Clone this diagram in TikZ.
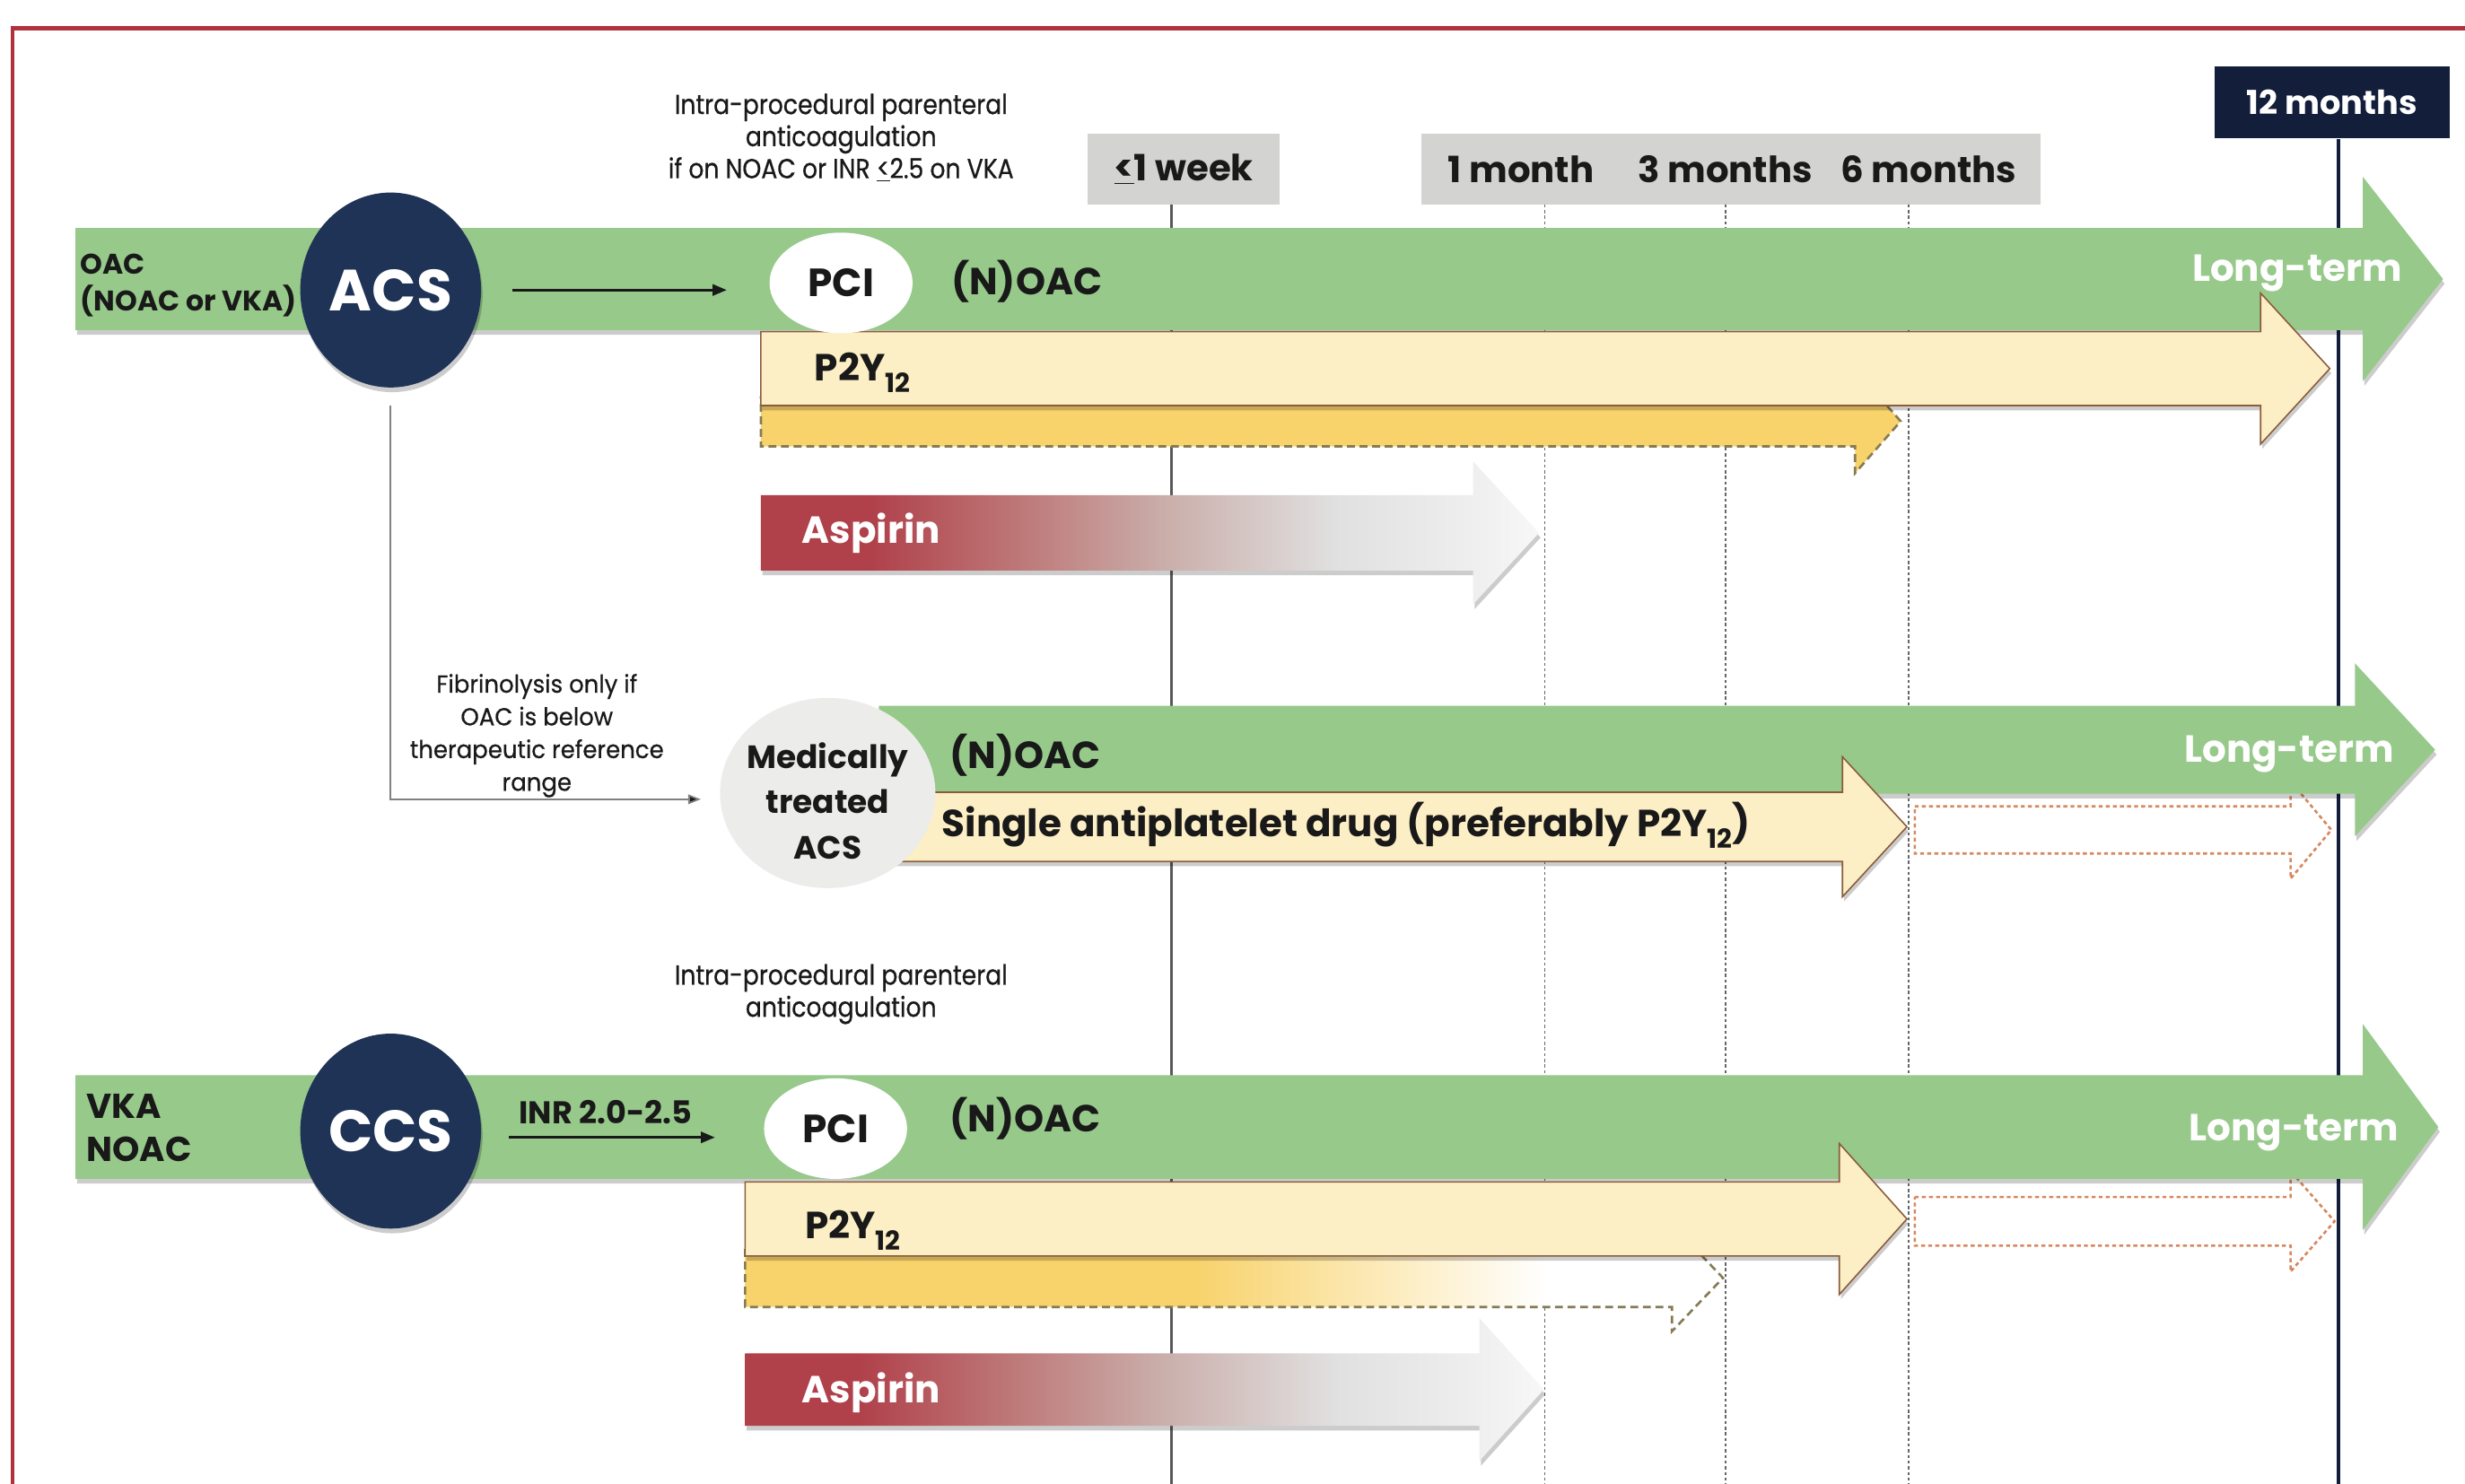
\documentclass[tikz,border=0pt]{standalone}
\usepackage{fontspec}
\setmainfont{Poppins}
\newfontfamily\notefont{Poppins}[FakeStretch=0.87, FakeBold=0.6]
\newfontfamily\fibfont{Poppins}[FakeStretch=0.95, FakeBold=0.5]
\usetikzlibrary{shapes.geometric,arrows.meta,shadows}

\definecolor{frame}{RGB}{176,50,62}
\definecolor{oac}{RGB}{150,201,138}
\definecolor{navy}{RGB}{31,51,86}
\definecolor{deepnavy}{RGB}{18,30,58}
\definecolor{stampgrey}{RGB}{211,211,209}
\definecolor{pale}{RGB}{253,239,197}
\definecolor{rim}{RGB}{138,92,60}
\definecolor{amber}{RGB}{248,211,108}
\definecolor{olive}{RGB}{133,123,85}
\definecolor{asa}{RGB}{176,64,74}
\definecolor{asamid}{RGB}{190,122,122}
\definecolor{asagrey}{RGB}{202,174,170}
\definecolor{rust}{RGB}{214,136,94}
\definecolor{mist}{RGB}{236,236,234}
\definecolor{ink}{RGB}{25,25,25}

\pgfdeclarehorizontalshading{aspirinfade}{100bp}{color(0bp)=(asa); color(32bp)=(asa); color(42bp)=(asamid); color(51bp)=(asagrey); color(62bp)=(black!12); color(70bp)=(black!7); color(75bp)=(black!3); color(100bp)=(black!3)}
\pgfdeclarehorizontalshading{amberfade}{100bp}{color(0bp)=(amber); color(48bp)=(amber); color(57bp)=(amber!50); color(66bp)=(white); color(100bp)=(white)}

\newcommand{\blockarrow}[7][]{%
  \path[#1] (#2,#5-#6) -- (#3,#5-#6) -- (#3,#5-#7) -- (#4,#5)
    -- (#3,#5+#7) -- (#3,#5+#6) -- (#2,#5+#6) -- cycle;}
\newcommand{\sub}[1]{\raisebox{-0.3em}{\scalebox{0.7}{#1}}}

\begin{document}
\begin{tikzpicture}[
    x=1pt, y=-1pt,
    every node/.style={inner sep=0pt, text=ink},
    lift/.style={drop shadow={shadow xshift=1pt, shadow yshift=-3pt, opacity=0.2, fill=black}},
    oacbar/.style={fill=oac, lift},
    p2ybar/.style={fill=pale, draw=rim, line width=0.9pt, lift},
    amberbar/.style={draw=olive, line width=1.5pt, dash pattern=on 5pt off 3pt},
    asabar/.style={shade, shading=aspirinfade, lift},
    laterbar/.style={draw=rust, line width=1.5pt, dash pattern=on 2.5pt off 2pt},
    event/.style={ellipse, fill=navy, text=white, minimum width=115pt, minimum height=124pt, font=\bfseries\fontsize{37}{40}\selectfont, lift},
    pci/.style={ellipse, fill=white, minimum width=91pt, minimum height=64pt, font=\bfseries\fontsize{25}{28}\selectfont},
    medical/.style={ellipse, fill=mist, minimum width=137pt, minimum height=121pt},
    stamp/.style={fill=stampgrey, minimum height=45pt, font=\bfseries\fontsize{23}{26}\selectfont},
    drug/.style={anchor=base west, font=\bfseries\fontsize{24}{28}\selectfont},
    longterm/.style={anchor=base east, text=white, font=\bfseries\fontsize{24}{28}\selectfont},
    note/.style={align=center, text=ink, font=\notefont\fontsize{17.5}{20.4}\selectfont},
    tick/.style={draw=black!60, line width=1pt, dash pattern=on 2pt off 1.6pt},
    conn/.style={draw=ink, line width=1.7pt, -{Triangle[length=9pt,width=7pt]}},
    thinconn/.style={draw=black!50, line width=1pt, -{Triangle[length=8pt,width=6pt,fill=ink]}}
]

\useasboundingbox (0,0) rectangle (1568,944);
\clip (0,0) rectangle (1568,944);
\draw[frame, line width=2.8pt] (8,18) rectangle (1620,1000);

\node[stamp, minimum width=122pt] (week) at (753,107.5) {\underline{<}1 week};
\node[stamp, minimum width=394pt] (months) at (1101,107.5) {};
\node[stamp, fill=none] (m1) at (967.5,107.5) {1 month};
\node[stamp, fill=none] (m3) at (1097.5,107.5) {3 months};
\node[stamp, fill=none] (m6) at (1227,107.5) {6 months};
\node[fill=deepnavy, text=white, minimum width=149pt, minimum height=46pt, font=\bfseries\fontsize{21}{24}\selectfont] (m12) at (1483.5,65) {12 months};

\draw[black!65, line width=1.5pt] ([xshift=-8pt]week.south) -- ++(0,820);
\foreach \t in {982.6,1097.6,1214}
    \draw[tick] (\t,130) -- (\t,944);
\draw[deepnavy, line width=2.5pt] ([xshift=4pt]m12.south) -- ++(0,860);

\blockarrow[oacbar]{48}{1503}{1554}{177.5}{32.5}{65}
\blockarrow[fill=amber, amberbar]{484}{1180}{1209}{268}{16}{33}
\blockarrow[p2ybar]{484}{1438}{1482}{234.5}{23.5}{48}
\blockarrow[asabar]{484}{937}{979}{339}{24}{45.5}

\blockarrow[laterbar]{1218}{1457}{1483}{528}{15}{31}
\blockarrow[oacbar]{559}{1498}{1549}{477}{28}{55}
\blockarrow[p2ybar]{559}{1172}{1213}{526}{22}{44.5}

\blockarrow[laterbar]{1218}{1457}{1485}{777}{15.5}{32}
\blockarrow[oacbar]{48}{1503}{1551}{717}{33}{65.5}
\blockarrow[shade, shading=amberfade, amberbar]{474}{1063.5}{1096}{813}{18.5}{34}
\blockarrow[p2ybar]{474}{1170}{1213}{775.5}{23.5}{48}
\blockarrow[asabar]{474}{941}{982}{884}{23}{45.5}

\node[event] (acs) at (248.5,184.5) {ACS};
\node[pci] (pci1) at (535,180) {PCI};
\node[medical] (med) at (526.5,504.5) {};
\node[align=center, font=\bfseries\fontsize{20.5}{29}\selectfont] (medtext) at (526.5,509.5) {Medically\\treated\\ACS};
\node[event] (ccs) at (248.5,719.6) {CCS};
\node[pci] (pci3) at (531.5,718) {PCI};

\node[note] (intra1) at (535,87.5) {Intra-procedural parenteral\\anticoagulation\\if on NOAC or INR \underline{<}2.5 on VKA};
\node[note] (intra3) at (535,632.5) {Intra-procedural parenteral\\anticoagulation};
\node[note, font=\fibfont\fontsize{15.6}{20.8}\selectfont] (fibrino) at (341.5,468) {Fibrinolysis only if\\OAC is below\\therapeutic reference\\range};

\node[anchor=north west, align=left, font=\bfseries\fontsize{18}{23.5}\selectfont] (oac) at (51,161.5) {OAC\\(NOAC or VKA)};
\node[anchor=north west, align=left, font=\bfseries\fontsize{22}{27}\selectfont] (vka) at (55,696) {VKA\\NOAC};

\node[drug] (noac1) at (605,187.5) {(N)OAC};
\node[drug] (p2y1) at (518,242.5) {P2Y\sub{12}};
\node[drug, text=white] (asa1) at (510,345.5) {Aspirin};
\node[longterm] (long1) at (1528,179) {Long-term};
\node[drug] (noac2) at (604,489) {(N)OAC};
\node[drug] (sapt) at (599,532.5) {Single antiplatelet drug (preferably P2Y\sub{12})};
\node[longterm] (long2) at (1523,485) {Long-term};
\node[drug] (noac3) at (604,720) {(N)OAC};
\node[drug] (p2y3) at (512,788) {P2Y\sub{12}};
\node[drug, text=white] (asa3) at (510,892.7) {Aspirin};
\node[longterm] (long3) at (1526,725.7) {Long-term};

\draw[conn, shorten <=20pt, shorten >=27pt] (acs.east) -- (acs.east -| pci1.west);
\draw[thinconn, shorten <=11.5pt, shorten >=12pt] (acs.south) |- ([yshift=-4pt]med.west);
\draw[conn, shorten <=17.5pt, shorten >=31pt] ([yshift=-4pt]ccs.east) -- ([yshift=-4pt]ccs.east -| pci3.west)
    node[pos=0.44, above=7.5pt, font=\bfseries\fontsize{20}{24}\selectfont] (inr) {INR 2.0-2.5};

\end{tikzpicture}
\end{document}
